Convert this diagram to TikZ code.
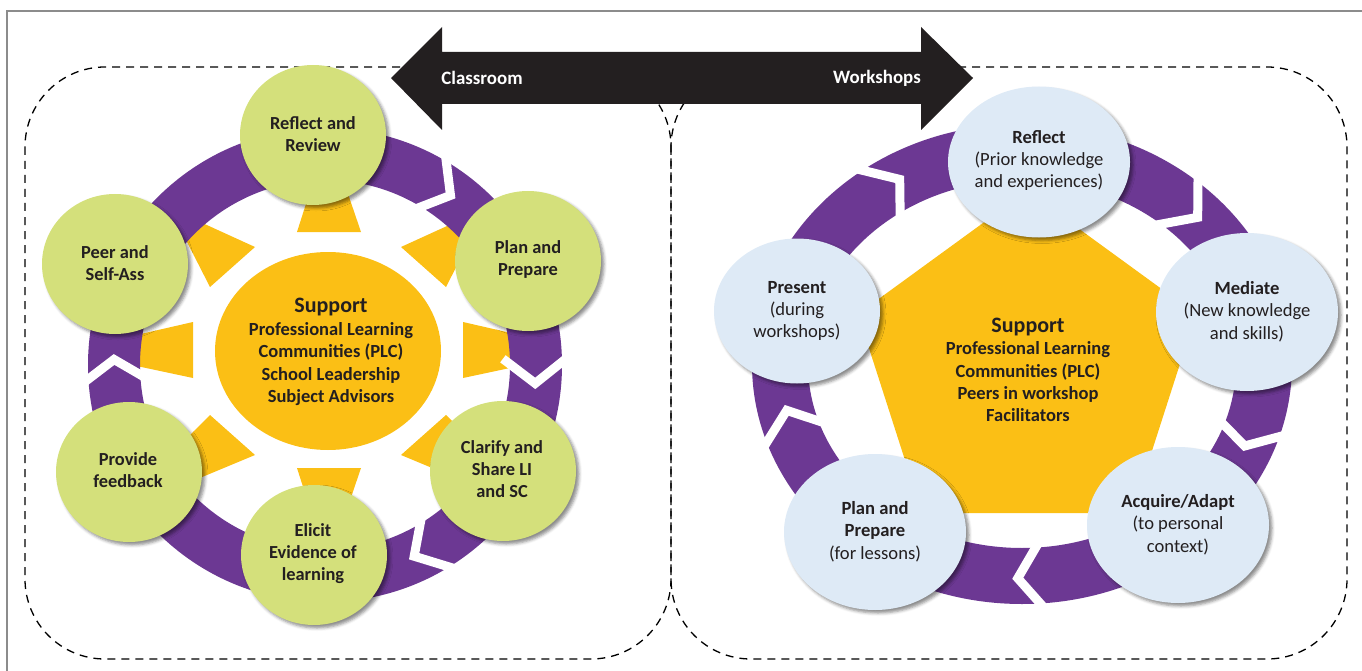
\documentclass[tikz,border=0pt]{standalone}
\usepackage{fontspec}
\setmainfont{Carlito}
\usetikzlibrary{shapes.geometric,shadows.blur}
\definecolor{ringpurple}{RGB}{108,56,147}
\definecolor{leafgreen}{RGB}{212,224,123}
\definecolor{supyellow}{RGB}{251,191,21}
\definecolor{paleblue}{RGB}{222,234,246}
\definecolor{inkdark}{RGB}{35,31,32}
\definecolor{framegray}{RGB}{140,140,140}
\begin{document}
\begin{tikzpicture}[x=1pt,y=-1pt,
  txt/.style={font=\fontsize{18.6}{22.3}\selectfont, text=inkdark, align=center, inner sep=0pt},
  bigtxt/.style={txt, font=\fontsize{18.4}{22.3}\selectfont\bfseries},
  softshadow/.style={blur shadow={shadow xshift=3pt, shadow yshift=-3pt, shadow blur radius=3pt, shadow opacity=45}},
  greencirc/.style={ellipse, fill=leafgreen, minimum width=146pt, minimum height=140pt, inner sep=0pt, softshadow},
  bluecirc/.style={ellipse, fill=paleblue, minimum width=182pt, minimum height=154pt, inner sep=0pt, softshadow},
  chev/.style={draw=white, line width=9pt, line join=miter, miter limit=10},
  dashbox/.style={draw=black, dash pattern=on 8pt off 6pt, line width=1.3pt, rounded corners=80pt},
  arrowlbl/.style={font=\fontsize{18.9}{22}\selectfont\bfseries, text=white, inner sep=0pt},
]
\useasboundingbox (0,0) rectangle (1362,671);
% frame
\draw[framegray, line width=1.5pt] (7,671) -- (7,11) -- (1362,11);
% dashed boxes
\draw[dashbox] (25,67) rectangle (671,659);
\draw[dashbox] (671,67) rectangle (1347,659);

% ================= LEFT CYCLE =================
% rays
\fill[supyellow] (297,232) -- (361,232) -- (345,185) -- (312,185) -- cycle;
\fill[supyellow] (297,468) -- (361,468) -- (345,515) -- (312,515) -- cycle;
\fill[supyellow] (193,322) -- (193,378) -- (132,365) -- (132,336) -- cycle;
\fill[supyellow] (463,322) -- (463,378) -- (524,365) -- (524,336) -- cycle;
\fill[supyellow] (255,247) -- (198,221) -- (186,240) -- (210,287) -- cycle;
\fill[supyellow] (401,247) -- (458,221) -- (470,240) -- (446,287) -- cycle;
\fill[supyellow] (255,455) -- (210,415) -- (185,440) -- (195,480) -- cycle;
\fill[supyellow] (401,455) -- (446,415) -- (471,440) -- (461,480) -- cycle;
% centre
\node[ellipse, fill=supyellow, minimum width=226pt, minimum height=198pt, inner sep=0pt] (lsup) at (328,351) {};
\node[txt, font=\fontsize{18.5}{22.4}\selectfont\bfseries] (lsuptxt) at (331,352)
  {{\fontsize{22}{22}\selectfont Support}\\Professional Learning\\Communities (PLC)\\School Leadership\\Subject Advisors};
% ring
\fill[ringpurple, even odd rule] (325,365) circle[radius=237pt] (325,365) circle[radius=185pt];
\begin{scope}[shift={(325,365)}]
  \draw[chev] (-60.5:244) -- (-53.5:211) -- (-60.5:178);
  \draw[chev] (-2:244) -- (5:211) -- (-2:178);
  \draw[chev] (57:244) -- (65:211) -- (57:178);
  \draw[chev] (175.5:244) -- (181.5:211) -- (175.5:178);
\end{scope}
% green circles
\node[greencirc] (lreflect) at (313,135) {};
\node[greencirc] (lplan) at (528,261) {};
\node[greencirc] (lclarify) at (503,471) {};
\node[greencirc] (lelicit) at (314,555) {};
\node[greencirc] (lprovide) at (129,472) {};
\node[greencirc] (lpeer) at (115,264) {};
\node[bigtxt] (lreflecttxt) at (313,134) {Reflect and\\Review};
\node[bigtxt] (lplantxt) at (528,259.5) {Plan and\\Prepare};
\node[bigtxt] (lclarifytxt) at (502,469) {Clarify and\\Share LI\\and SC};
\node[bigtxt] (lelicittxt) at (313,553.5) {Elicit\\Evidence of\\learning};
\node[bigtxt] (lprovidetxt) at (128,470) {Provide\\feedback};
\node[bigtxt] (lpeertxt) at (115,263) {Peer and\\Self-Ass};

% ================= RIGHT CYCLE =================
\fill[supyellow] (1027,191) -- (1196,314) -- (1132,513) -- (922,513) -- (858,314) -- cycle;
\node[txt, font=\fontsize{18.5}{22.4}\selectfont\bfseries] (rsuptxt) at (1028,370)
  {{\fontsize{22}{22}\selectfont Support}\\Professional Learning\\Communities (PLC)\\Peers in workshop\\Facilitators};
\fill[ringpurple, even odd rule] (1022,364) ellipse[x radius=270pt, y radius=240pt] (1022,364) ellipse[x radius=214pt, y radius=184pt];
\begin{scope}[shift={(1022,364)}, yscale=0.889]
  \draw[chev] (-127.5:278) -- (-120.5:241) -- (-127.5:200);
  \draw[chev] (-50.7:278) -- (-43.2:241) -- (-50.7:200);
  \draw[chev] (16.5:278) -- (22.5:241) -- (16.5:200);
  \draw[chev] (85:278) -- (91:241) -- (85:200);
  \draw[chev] (159.5:278) -- (167.5:241) -- (159.5:200);
\end{scope}
\node[bluecirc, minimum height=151pt] (rreflect) at (1039,162) {};
\node[bluecirc, minimum height=158pt] (rmediate) at (1247,312) {};
\node[bluecirc, minimum height=156pt] (racquire) at (1178,525) {};
\node[bluecirc, minimum height=156pt] (rplan) at (875,532) {};
\node[bluecirc, minimum width=166pt, minimum height=145pt] (rpresent) at (797,311) {};
\node[txt] (rreflecttxt) at (1039,160.5) {\textbf{Reflect}\\(Prior knowledge\\and experiences)};
\node[txt] (rmediatetxt) at (1247,311.5) {\textbf{Mediate}\\(New knowledge\\and skills)};
\node[txt] (racquiretxt) at (1178,524.5) {\textbf{Acquire/Adapt}\\(to personal\\context)};
\node[txt] (rplantxt) at (875,531.5) {\textbf{Plan and}\\\textbf{Prepare}\\(for lessons)};
\node[txt] (rpresenttxt) at (797,311) {\textbf{Present}\\(during\\workshops)};

% ================= DOUBLE ARROW =================
\fill[inkdark] (391,78) -- (442,27) -- (442,52) -- (921,52) -- (921,27) -- (973,78)
  -- (921,130) -- (921,104) -- (442,104) -- (442,130) -- cycle;
\node[arrowlbl] (classroom) at (482,78) {Classroom};
\node[arrowlbl] (workshops) at (877,78) {Workshops};
\end{tikzpicture}
\end{document}
